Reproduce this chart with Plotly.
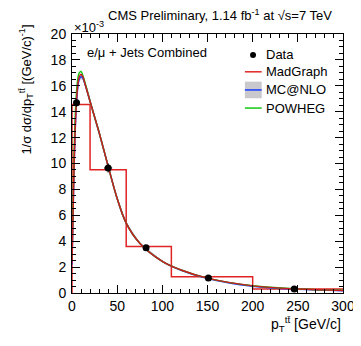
import plotly.graph_objects as go

# unfolded data points (units of 1e-3 per GeV/c)
data_x = [5, 40, 82, 151, 246]
data_y = [14.7, 9.65, 3.5, 1.15, 0.3]
data_ey = [0.3, 0.35, 0.15, 0.07, 0.04]
data_ex = [2.5, 4.5, 2.5, 1.5, 1.5]

# MadGraph binned prediction
bin_edges = [0, 20, 60, 110, 200, 300]
bin_vals = [14.55, 9.52, 3.6, 1.25, 0.31]

# smooth theory curves
curve_x = [0, 2, 4, 6, 8, 10, 12, 15, 20, 25, 30, 40, 50, 60, 75, 100, 120, 150, 200, 250, 300]
madgraph_y = [2.3, 9.0, 13.5, 15.8, 16.7, 16.9, 16.7, 16.0, 14.8, 13.6, 12.4, 9.8, 7.3, 5.4, 3.85, 2.45, 1.8, 1.15, 0.55, 0.3, 0.2]
mcnlo_y = [2.2, 8.8, 13.3, 15.6, 16.5, 16.7, 16.6, 16.0, 14.8, 13.6, 12.4, 9.8, 7.3, 5.4, 3.85, 2.45, 1.78, 1.12, 0.52, 0.28, 0.18]
mcnlo_lo = [2.1, 8.6, 13.1, 15.4, 16.3, 16.5, 16.4, 15.8, 14.6, 13.4, 12.2, 9.7, 7.2, 5.3, 3.8, 2.4, 1.74, 1.09, 0.5, 0.26, 0.17]
mcnlo_hi = [2.3, 9.0, 13.5, 15.8, 16.7, 16.9, 16.8, 16.2, 15.0, 13.8, 12.6, 9.9, 7.4, 5.5, 3.9, 2.5, 1.82, 1.15, 0.54, 0.3, 0.19]
powheg_y = [2.6, 10.0, 14.3, 16.3, 17.0, 17.1, 16.8, 16.1, 14.8, 13.6, 12.4, 9.8, 7.3, 5.4, 3.85, 2.45, 1.8, 1.15, 0.56, 0.31, 0.21]

legend_labels = ["Data", "MadGraph", "MC@NLO", "POWHEG"]

FONT = "Liberation Sans, Arial, sans-serif"
RED = "#e02424"
BLUE = "#1a3cff"
GREEN = "#12c912"

fig = go.Figure()

fig.add_trace(go.Scatter(
    x=bin_edges[:1] + bin_edges, y=[0] + bin_vals + bin_vals[-1:],
    mode="lines", line=dict(color=RED, width=1.5, shape="hv"), hoverinfo="skip",
))

# MC@NLO band + line
fig.add_trace(go.Scatter(x=curve_x, y=mcnlo_lo, mode="lines", line=dict(width=0), hoverinfo="skip"))
fig.add_trace(go.Scatter(
    x=curve_x, y=mcnlo_hi, mode="lines", line=dict(width=0),
    fill="tonexty", fillcolor="rgba(180,180,190,0.7)", hoverinfo="skip",
))
fig.add_trace(go.Scatter(x=curve_x, y=mcnlo_y, mode="lines",
                         line=dict(color=BLUE, width=1.5, shape="spline")))
fig.add_trace(go.Scatter(x=curve_x, y=powheg_y, mode="lines",
                         line=dict(color=GREEN, width=1.5, shape="spline")))
fig.add_trace(go.Scatter(x=curve_x, y=madgraph_y, mode="lines",
                         line=dict(color="#c81e1e", width=1.5, shape="spline")))
fig.add_trace(go.Scatter(
    x=data_x, y=data_y, mode="markers",
    marker=dict(color="black", size=7),
    error_y=dict(type="data", array=data_ey, color="black", thickness=1, width=0),
    error_x=dict(type="data", array=data_ex, color="black", thickness=1, width=0),
))

axis_common = dict(
    showline=True, linecolor="black", linewidth=1, mirror="ticks",
    ticks="inside", ticklen=8, tickcolor="black", showgrid=False, zeroline=False,
    tickfont=dict(family=FONT, size=14, color="black"),
    ticklabeloverflow="allow", automargin=False,
)
fig.update_xaxes(range=[0, 300], dtick=50, tick0=0,
                 minor=dict(ticks="inside", dtick=10, ticklen=4, tickcolor="black"),
                 **axis_common)
fig.update_yaxes(range=[0, 20], dtick=2, tick0=0,
                 minor=dict(ticks="inside", dtick=0.5, ticklen=4, tickcolor="black"),
                 ticklabelstandoff=2, **axis_common)

# hand-drawn ROOT-style legend (paper coordinates)
leg_y = [0.919, 0.854, 0.784, 0.714]
leg_x0, leg_x1, leg_tx = 0.638, 0.700, 0.708
shapes = [
    dict(type="circle", xref="paper", yref="paper", x0=0.657, x1=0.679,
         y0=leg_y[0] - 0.0115, y1=leg_y[0] + 0.0115, fillcolor="black", line=dict(width=0)),
    dict(type="line", xref="paper", yref="paper", x0=leg_x0, x1=leg_x1,
         y0=leg_y[1], y1=leg_y[1], line=dict(color=RED, width=1.5)),
    dict(type="rect", xref="paper", yref="paper", x0=leg_x0, x1=leg_x1,
         y0=leg_y[2] - 0.032, y1=leg_y[2] + 0.032, fillcolor="rgb(200,200,205)", line=dict(width=0)),
    dict(type="line", xref="paper", yref="paper", x0=leg_x0, x1=leg_x1,
         y0=leg_y[2], y1=leg_y[2], line=dict(color=BLUE, width=1.5)),
    dict(type="line", xref="paper", yref="paper", x0=leg_x0, x1=leg_x1,
         y0=leg_y[3], y1=leg_y[3], line=dict(color=GREEN, width=1.5)),
]
annotations = [
    dict(text=lab, xref="paper", yref="paper", x=leg_tx, y=yy, xanchor="left",
         yanchor="middle", showarrow=False, font=dict(size=13))
    for lab, yy in zip(legend_labels, leg_y)
]
annotations += [
    dict(text="CMS Preliminary, 1.14 fb<sup>-1</sup> at √s=7 TeV", xref="paper", yref="paper",
         x=0.546, y=1.073, xanchor="center", yanchor="middle", showarrow=False,
         font=dict(size=13)),
    dict(text="×10<sup>-3</sup>", xref="paper", yref="paper", x=0, y=0.99,
         xanchor="left", yanchor="bottom", showarrow=False, font=dict(size=13)),
    dict(text="e/μ + Jets Combined", xref="paper", yref="paper", x=0.048, y=0.927,
         xanchor="left", yanchor="middle", showarrow=False, font=dict(size=13)),
    dict(text="1/σ dσ/dp<sub>T</sub><sup>tt̄</sup> [(GeV/c)<sup>-1</sup>]", xref="paper",
         yref="paper", x=-0.17, y=0.785, xanchor="center", yanchor="middle",
         textangle=-90, showarrow=False, font=dict(size=13)),
    dict(text="p<sub>T</sub><sup>tt̄</sup> [GeV/c]", xref="paper", yref="paper",
         x=1.0, y=-0.12, xanchor="right", yanchor="middle", showarrow=False,
         font=dict(size=14)),
]

# the page body keeps its default 8px margin, so the figure starts 8px in
fig.update_layout(
    width=353, height=330,
    margin=dict(l=64, r=18, t=26, b=45, autoexpand=False),
    paper_bgcolor="white", plot_bgcolor="white",
    font=dict(family=FONT, color="black"),
    showlegend=False,
    shapes=shapes,
    annotations=annotations,
)

fig.write_html("out.html")
